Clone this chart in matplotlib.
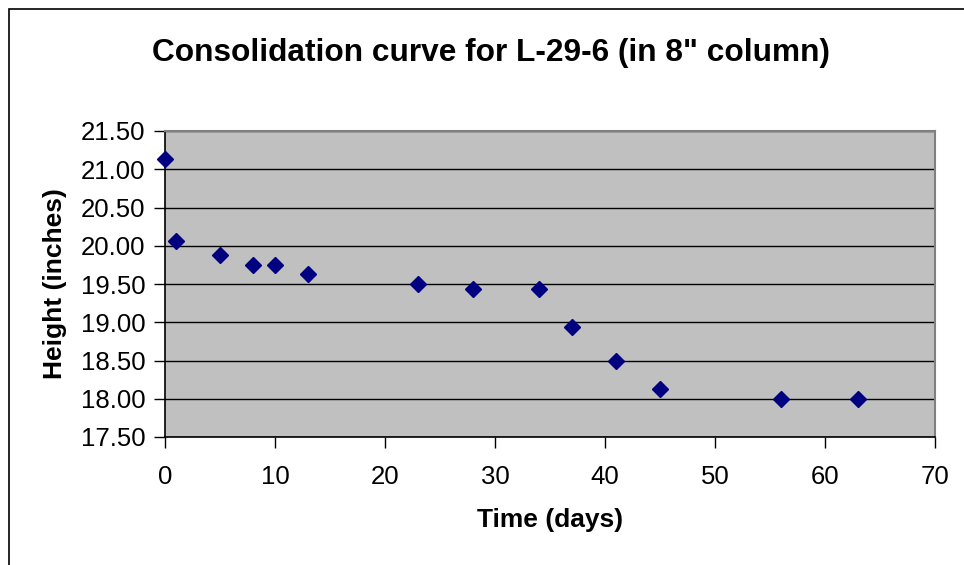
import matplotlib.pyplot as plt
from matplotlib.patches import Rectangle

plt.rcParams['font.family'] = ['Liberation Sans', 'DejaVu Sans']

# consolidation readings
days = [0, 1, 5, 8, 10, 13, 23, 28, 34, 37, 41, 45, 56, 63]
height = [21.13, 20.06, 19.88, 19.75, 19.75, 19.63, 19.50, 19.44, 19.44,
          18.94, 18.50, 18.13, 18.00, 18.00]
yticks = [17.5, 18.0, 18.5, 19.0, 19.5, 20.0, 20.5, 21.0, 21.5]
xticks = [0, 10, 20, 30, 40, 50, 60, 70]

W, H = 964, 565
fig = plt.figure(figsize=(W / 100, H / 100), dpi=100)
ax = fig.add_axes([165 / W, 1 - 437 / H, (935 - 165) / W, (437 - 131) / H])

# outer chart border
fig.patches.append(Rectangle((9 / W, -0.1), 1.2, 1 - 9 / H + 0.1, transform=fig.transFigure,
                             fill=False, edgecolor='black', linewidth=1.2))

ax.set_facecolor('#c0c0c0')
ax.plot(days, height, linestyle='none', marker='D', markersize=8.5,
        color='#000080', clip_on=False, zorder=5)

ax.set_xlim(0, 70)
ax.set_ylim(17.5, 21.5)
ax.set_xticks(xticks)
ax.set_yticks(yticks)
ax.set_yticklabels([f'{v:.2f}' for v in yticks])
ax.grid(axis='y', color='black', linewidth=1)
ax.set_axisbelow(True)

for s in ['top', 'right']:
    ax.spines[s].set_color('#808080')
    ax.spines[s].set_linewidth(1.5)
for s in ['left', 'bottom']:
    ax.spines[s].set_color('black')
    ax.spines[s].set_linewidth(1.2)

ax.tick_params(direction='out', length=8, width=1, labelsize=18.5, pad=6)
ax.tick_params(axis='x', pad=12)

ax.set_xlabel('Time (days)', fontsize=19, fontweight='bold', labelpad=14)
ax.set_ylabel('Height (inches)', fontsize=19, fontweight='bold', labelpad=10)
fig.text(491 / W, 1 - 53 / H, 'Consolidation curve for L-29-6 (in 8" column)',
         ha='center', va='center', fontsize=22.8, fontweight='bold')

fig.savefig('out.png', dpi=100)
